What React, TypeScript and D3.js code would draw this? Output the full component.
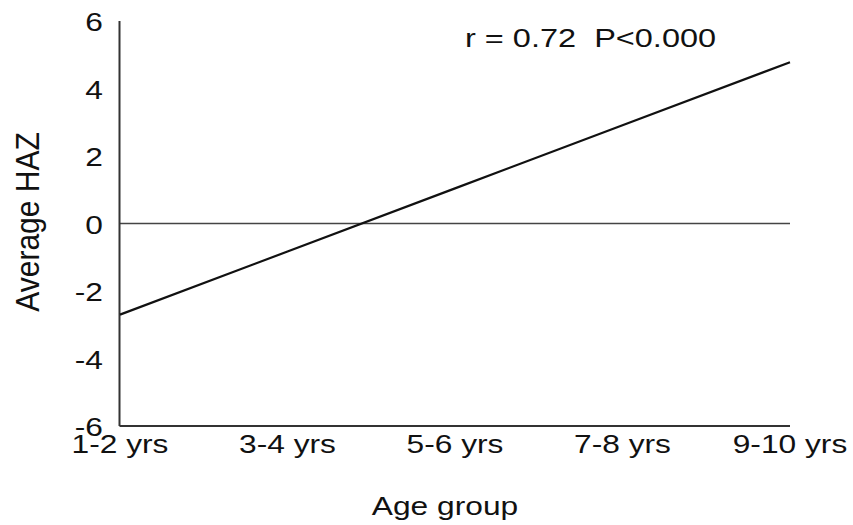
import React from "react";
import * as d3 from "d3";

// Age groups along the x axis
const ageGroups = ["1-2 yrs", "3-4 yrs", "5-6 yrs", "7-8 yrs", "9-10 yrs"];
// Fitted average HAZ for each age group (regression line)
const avgHaz = [-2.7, -0.83, 1.04, 2.91, 4.78];
// Y axis tick values
const yTicks = [-6, -4, -2, 0, 2, 4, 6];
const statsLabel = "r = 0.72  P<0.000";
const xTitle = "Age group";
const yTitle = "Average HAZ";

const W = 853;
const H = 525;
const FONT = "'Liberation Sans', Arial, sans-serif";
const SX = 1.22; // horizontal widening of the label type

export default function App() {
  const x = d3.scalePoint<string>().domain(ageGroups).range([120, 790]);
  const y = d3.scaleLinear().domain([-6, 6]).range([426, 21]);

  const line = d3
    .line<number>()
    .x((_, i) => x(ageGroups[i]) as number)
    .y((d) => y(d));

  const data = avgHaz;

  return (
    <svg
      width={W}
      height={H}
      style={{ position: "absolute", left: 0, top: 0, background: "#fff" }}
      fontFamily={FONT}
    >
      <rect width={W} height={H} fill="#fff" />
      {/* zero reference line */}
      <line
        x1={x.range()[0]}
        x2={x.range()[1]}
        y1={y(0)}
        y2={y(0)}
        stroke="#444"
        strokeWidth={1.4}
      />
      {/* axes */}
      <line x1={119.5} x2={119.5} y1={y(6)} y2={y(-6)} stroke="#333" strokeWidth={2} />
      <line x1={119.5} x2={790} y1={y(-6)} y2={y(-6)} stroke="#333" strokeWidth={2} />

      {/* regression line */}
      <path d={line(data) || ""} fill="none" stroke="#111" strokeWidth={2.2} />

      {/* y tick labels */}
      {yTicks.map((t) => (
        <text
          key={t}
          transform={`translate(103,${y(t) + 10}) scale(${SX},1)`}
          textAnchor="end"
          fontSize={26}
          fill="#111"
        >
          {t}
        </text>
      ))}

      {/* x tick labels */}
      {ageGroups.map((g) => (
        <text
          key={g}
          transform={`translate(${x(g)},453) scale(${SX},1)`}
          textAnchor="middle"
          fontSize={26}
          fill="#111"
        >
          {g}
        </text>
      ))}

      {/* axis titles */}
      <text
        transform={`translate(445,515) scale(${SX},1)`}
        textAnchor="middle"
        fontSize={26}
        fill="#111"
      >
        {xTitle}
      </text>
      <text
        transform={`translate(39,222) rotate(-90) scale(1,1.1)`}
        textAnchor="middle"
        fontSize={30}
        fill="#111"
      >
        {yTitle}
      </text>

      {/* statistics annotation */}
      <text
        transform={`translate(465,47) scale(1.25,1)`}
        fontSize={26}
        fill="#111"
        style={{ whiteSpace: "pre" }}
      >
        {statsLabel}
      </text>
    </svg>
  );
}
